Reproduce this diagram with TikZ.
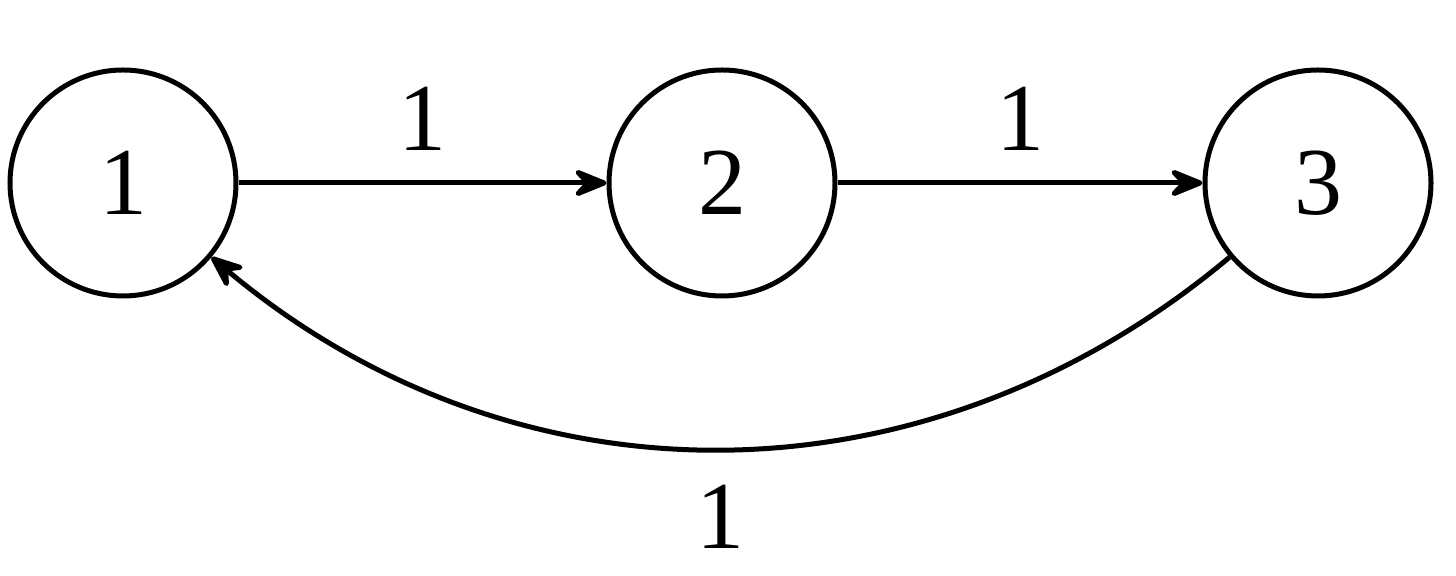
\documentclass[tikz,border=0pt]{standalone}
\usepackage{fontspec}
\setmainfont{Liberation Serif}
\usetikzlibrary{arrows.meta}
\begin{document}
\begin{tikzpicture}[x=0.5pt,y=0.5pt,
  state/.style={circle,draw,line width=2.5pt,minimum size=113pt,inner sep=0pt,font=\fontsize{48}{52}\selectfont},
  lbl/.style={inner sep=0pt,font=\fontsize{48}{52}\selectfont},
  edge/.style={line width=2.5pt,-{Stealth[length=21pt,width=17pt,inset=8pt,round]}}]
\useasboundingbox (0,0) rectangle (1456,576);
\node[state] (n1) at (123,393) {1};
\node[state] (n2) at (722,393) {2};
\node[state] (n3) at (1318,393) {3};
\draw[edge] (n1) -- node[lbl,midway,above=15pt] {1} (n2);
\draw[edge] (n2) -- node[lbl,midway,above=15pt] {1} (n3);
\draw[edge] (n3) to[bend left=40] node[lbl,midway,below=17pt] {1} (n1);
\end{tikzpicture}
\end{document}
